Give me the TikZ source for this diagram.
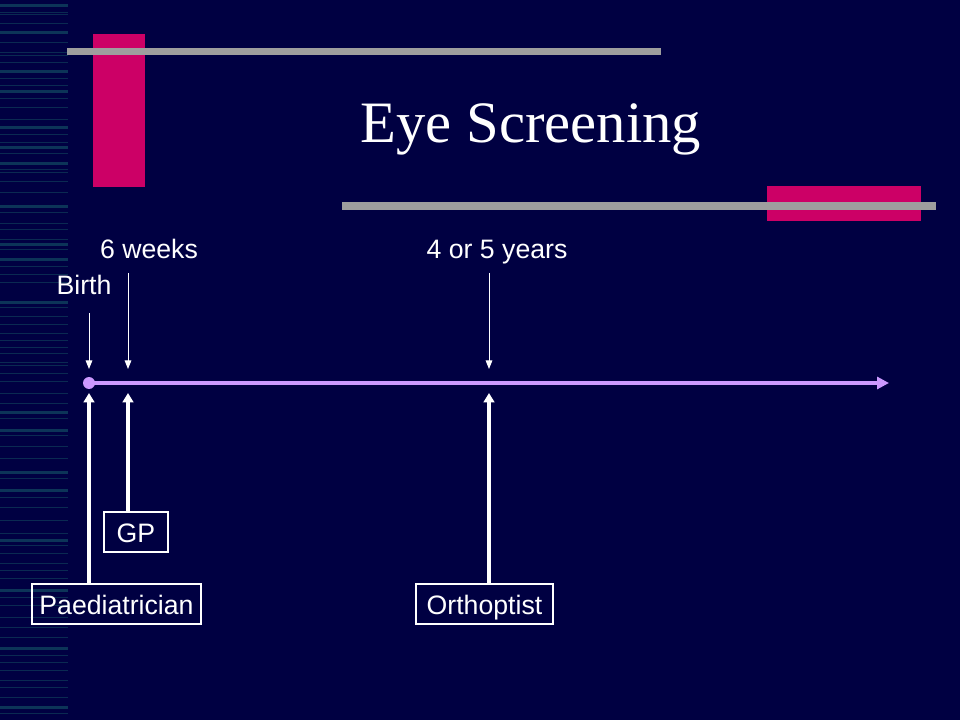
\documentclass[tikz,border=0pt]{standalone}
\usepackage{fontspec}
\setmainfont{Liberation Serif}
\newfontfamily\labelfont{Liberation Sans}
\usetikzlibrary{arrows.meta}
\definecolor{bgnavy}{RGB}{0,0,66}
\definecolor{stripecol}{RGB}{12,52,88}
\definecolor{stripethin}{RGB}{10,42,82}
\definecolor{barmag}{RGB}{204,0,102}
\definecolor{bargray}{RGB}{158,158,158}
\definecolor{lilac}{RGB}{204,153,255}
\tikzset{
  lbl/.style={text=white,font=\labelfont\fontsize{20}{24}\selectfont,inner sep=0pt,anchor=base},
  boxlbl/.style={draw=white,line width=0.8pt,text=white,font=\labelfont\fontsize{20}{24}\selectfont,text height=22.5pt,text depth=7.5pt,inner sep=0pt},
  thinarrow/.style={draw=white,line width=0.75pt,-{Triangle[width=5pt,length=6.5pt]}},
  thickarrow/.style={draw=white,line width=2.4pt,-{Triangle[width=8pt,length=7pt]}},
  timeline/.style={draw=lilac,line width=2.3pt,-{Triangle[width=9pt,length=9pt]}}
}
\begin{document}
\begin{tikzpicture}[x=0.75pt,y=-0.75pt]
\fill[bgnavy] (0,0) rectangle (960,720);
\useasboundingbox (0,0) rectangle (960,720);
% left stripes
\foreach \yy in {13,15,24,43,53,56,63,79,86,99,108,120,135,143,154,170,173,182,193,213,224,230,240,250,267,275,283,308,316,324,333,340,347,353,362,365,373,381,393,403,418,435,446,458,478,497,507,520,533,545,553,563,570,578,597,605,617,627,637,655,662,670,680,687,697,713}
  \fill[stripethin] (0,\yy-0.5) rectangle (68,\yy+0.5);
\foreach \yy in {6,33,72,92,128,148,164,207,245,260,303,412,430,472,490,540,590,648,707}
  \fill[stripecol] (0,\yy-1.5) rectangle (68,\yy+1.5);
% decorative bars
\fill[barmag] (93,34) rectangle (145,187);
\fill[bargray] (67,48) rectangle (661,55);
\fill[barmag] (767,186) rectangle (921,221);
\fill[bargray] (342,202) rectangle (936,210);
% title
\node[text=white,font=\fontsize{44}{50}\selectfont,inner sep=0pt,anchor=base] (title) at (531,143) {Eye Screening};
% labels above
\node[lbl] (sixw) at (149,259) {6 weeks};
\node[lbl] (fouryr) at (497,259) {4 or 5 years};
\node[lbl] (birth) at (84,295) {Birth};
% timeline coordinates
\coordinate (t0) at (89,383);
\coordinate (tend) at (889,383);
\coordinate (d0s) at (89,313);
\coordinate (d0e) at (89,369);
\coordinate (d6s) at (128,273);
\coordinate (d6e) at (128,369);
\coordinate (d4s) at (489,273);
\coordinate (d4e) at (489,369);
\coordinate (u0) at (89,393);
\coordinate (u6) at (128,393);
\coordinate (u4) at (489,393);
% timeline
\draw[timeline] (t0) -- (tend);
\fill[lilac] (t0) circle (6);
% down arrows
\draw[thinarrow] (d0s) -- (d0e);
\draw[thinarrow] (d6s) -- (d6e);
\draw[thinarrow] (d4s) -- (d4e);
% boxes
\node[boxlbl,minimum width=48pt] (gp) at (136,532) {GP};
\node[boxlbl,minimum width=126.75pt] (paed) at (116.5,604) {Paediatrician};
\node[boxlbl,minimum width=102.75pt] (orth) at (484.5,604) {Orthoptist};
% up arrows
\draw[thickarrow] (paed.north -| u0) -- (u0);
\draw[thickarrow] (gp.north -| u6) -- (u6);
\draw[thickarrow] (orth.north -| u4) -- (u4);
\end{tikzpicture}
\end{document}
